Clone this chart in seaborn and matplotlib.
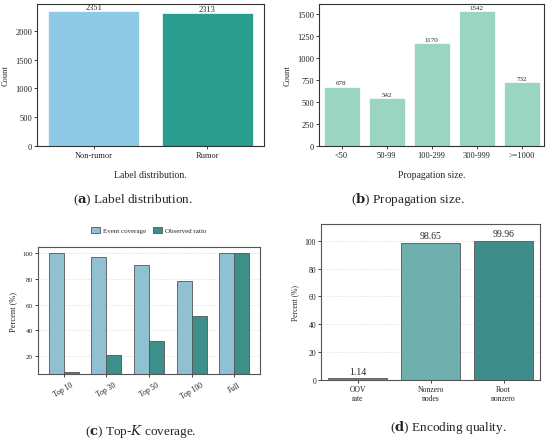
import pandas as pd
import matplotlib
matplotlib.use("Agg")
import matplotlib.pyplot as plt
import seaborn as sns

# data
label_names = ["Non-rumor", "Rumor"]
label_counts = [2351, 2313]

size_bins = ["<50", "50-99", "100-299", "300-999", ">=1000"]
size_counts = [678, 542, 1170, 1542, 732]

topk_names = ["Top 10", "Top 30", "Top 50", "Top 100", "Full"]
event_coverage = [100.0, 96.9, 90.6, 78.8, 100.0]
observed_ratio = [7.4, 20.5, 31.8, 51.5, 100.0]

enc_names = ["OOV\nrate", "Nonzero\nnodes", "Root\nnonzero"]
enc_values = [1.14, 98.65, 99.96]

sns.set_theme(style="white")
plt.rcParams["font.family"] = ["Liberation Serif", "DejaVu Serif"]

fig = plt.figure(figsize=(5.5, 4.39), dpi=100)
W, H = 550, 439


def place(left, top, right, bottom):
    return fig.add_axes([left / W, (H - bottom) / H, (right - left) / W, (bottom - top) / H])


def frame(ax, color="#333333"):
    for s in ax.spines.values():
        s.set_visible(True)
        s.set_color(color)
        s.set_linewidth(0.8)
    ax.tick_params(axis="both", which="both", length=2, width=0.6, pad=1.5,
                   bottom=True, left=True, colors="#222222")


# (a) label distribution
ax = place(37, 5, 264, 147)
df_a = pd.DataFrame({"label": label_names, "count": label_counts})
sns.barplot(data=df_a, x="label", y="count", hue="label",
            palette=["#8ECAE6", "#2A9D8F"], saturation=1, edgecolor="white",
            linewidth=0.5, legend=False, ax=ax)
for i, v in enumerate(label_counts):
    ax.text(i, v, str(v), ha="center", va="bottom", fontsize=6)
ax.set_ylim(0, max(label_counts) * 1.05)
ax.set_xlabel("Label distribution.", fontsize=7, labelpad=8)
ax.set_ylabel("Count", fontsize=6)
frame(ax)
ax.tick_params(labelsize=6)

# (b) propagation size
ax = place(319, 5, 544, 147)
df_b = pd.DataFrame({"bin": size_bins, "count": size_counts})
sns.barplot(data=df_b, x="bin", y="count", color="#99D5C0", saturation=1,
            edgecolor="white", linewidth=0.5, ax=ax)
for i, v in enumerate(size_counts):
    ax.text(i, v + 12, str(v), ha="center", va="bottom", fontsize=5)
ax.set_ylim(0, max(size_counts) * 1.05)
ax.set_yticks([0, 250, 500, 750, 1000, 1250, 1500])
ax.set_xlabel("Propagation size.", fontsize=7, labelpad=8)
ax.set_ylabel("Count", fontsize=6)
frame(ax)
ax.tick_params(labelsize=6)

# (c) top-k coverage
ax = place(38, 248, 260, 375)
df_c = pd.DataFrame({
    "k": topk_names * 2,
    "pct": event_coverage + observed_ratio,
    "kind": ["Event coverage"] * 5 + ["Observed ratio"] * 5,
})
sns.barplot(data=df_c, x="k", y="pct", hue="kind",
            palette=["#8FC1D3", "#3D8F89"], saturation=1, width=0.7,
            edgecolor="#555555", linewidth=0.6, ax=ax)
ax.set_xlim(-0.6, 4.6)
ax.set_ylim(6, 105)
ax.set_yticks([20, 40, 60, 80, 100])
ax.yaxis.grid(True, linestyle=":", color="#cccccc", linewidth=0.5)
ax.set_axisbelow(True)
ax.set_xlabel("")
ax.set_ylabel("Percent (%)", fontsize=6)
frame(ax, "#555555")
ax.tick_params(axis="y", labelsize=5)
ax.tick_params(axis="x", labelsize=5.5, pad=3)
for lab in ax.get_xticklabels():
    lab.set_rotation(30)
ax.legend(loc="lower center", bbox_to_anchor=(0.5, 1.06), ncol=2, frameon=False,
          fontsize=5, handlelength=1.2, handleheight=0.9, columnspacing=1.0,
          handletextpad=0.5)

# (d) encoding quality
ax = place(321, 225, 540, 381)
df_d = pd.DataFrame({"metric": enc_names, "pct": enc_values})
sns.barplot(data=df_d, x="metric", y="pct", hue="metric",
            palette=["#5A8C94", "#6FB0AE", "#3F8D8A"], saturation=1,
            edgecolor="#555555", linewidth=0.6, legend=False, ax=ax)
for i, v in enumerate(enc_values):
    ax.text(i, v + 2, f"{v:.2f}", ha="center", va="bottom", fontsize=7)
ax.set_ylim(0, 112)
ax.set_yticks([0, 20, 40, 60, 80, 100])
ax.yaxis.grid(True, linestyle=":", color="#cccccc", linewidth=0.5)
ax.set_axisbelow(True)
ax.set_xlabel("")
ax.set_ylabel("Percent (%)", fontsize=5.5)
frame(ax, "#555555")
ax.tick_params(labelsize=5.5)

# sub-figure captions
caps = [
    (133, 200, "a", " Label distribution."),
    (408, 200, "b", " Propagation size."),
    (141, 432, "c", None),
    (448, 428, "d", " Encoding quality."),
]
for x, y, letter, rest in caps:
    if rest is None:
        txt = r"($\mathbf{c}$) Top-$K$ coverage."
    else:
        txt = r"($\mathbf{" + letter + r"}$)" + rest
    fig.text(x / W, (H - y) / H, txt, ha="center", va="center", fontsize=9.5,
             math_fontfamily="dejavuserif")

fig.savefig("out.png", dpi=100)
